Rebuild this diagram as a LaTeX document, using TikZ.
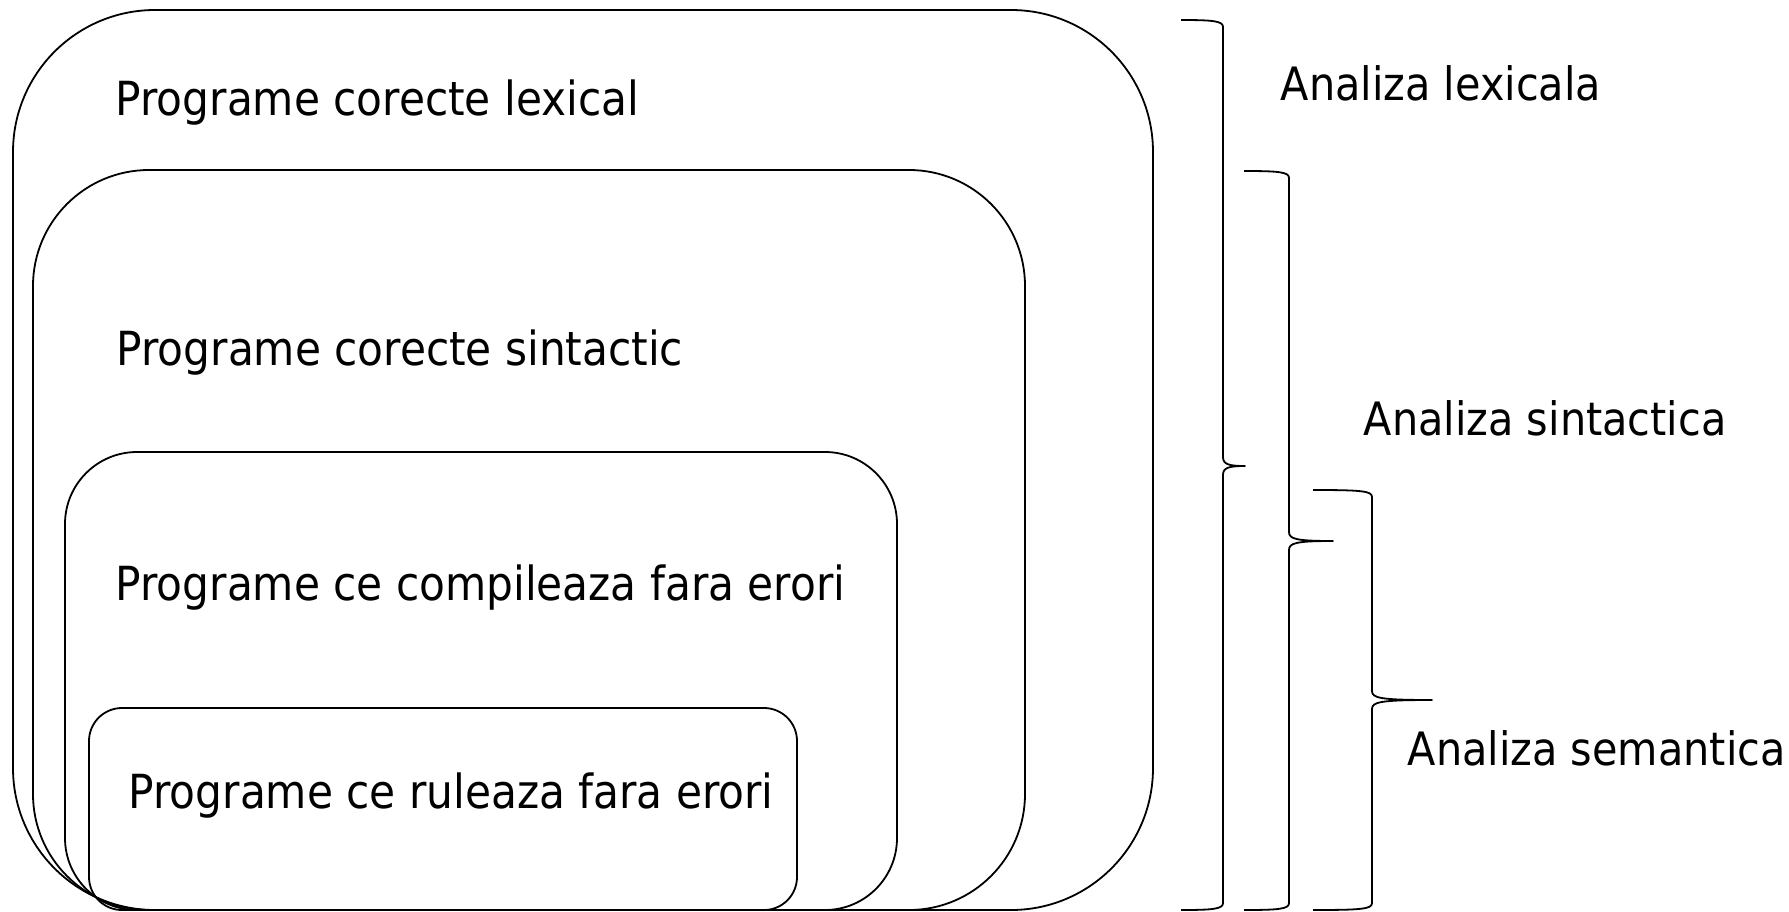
\documentclass[tikz,border=0pt]{standalone}
\usepackage{fontspec}
\setmainfont{DejaVu Sans Condensed}
\usetikzlibrary{positioning}

\begin{document}
\begin{tikzpicture}[x=1pt, y=-1pt, line width=1.8pt,
    boxtext/.style={anchor=base west, inner sep=0pt, font=\fontsize{47}{56}\selectfont},
    analiza/.style={anchor=base west, inner sep=0pt, font=\fontsize{46}{55}\selectfont},
    acolada/.style={line width=1.8pt, line join=round}]
    \useasboundingbox (0,0) rectangle (1789,911);

    % multimile de programe
    \draw[rounded corners=142pt] (13,10)  rectangle (1153,910);
    \draw[rounded corners=116pt] (33,170) rectangle (1025,910);
    \draw[rounded corners=72pt]  (65,452) rectangle (897,910);
    \draw[rounded corners=33pt]  (89,708) rectangle (797,910);

    \node[boxtext] at (115,115) (lexical)   {Programe corecte lexical};
    \node[boxtext] at (116,365) (sintactic) {Programe corecte sintactic};
    \node[boxtext] at (115,600) (compilare) {Programe ce compileaza fara erori};
    \node[boxtext] at (128,808) (rulare)    {Programe ce ruleaza fara erori};

    % acolade
    \draw[acolada] (1181,20) .. controls (1213,20) and (1223,21) .. (1223,27) -- (1223,457)
        .. controls (1223,464) and (1228,466) .. (1245,466)
        .. controls (1228,466) and (1223,468) .. (1223,475) -- (1223,903)
        .. controls (1223,909) and (1213,910) .. (1181,910);
    \draw[acolada] (1244,171) .. controls (1279,171) and (1289,172) .. (1289,178) -- (1289,532)
        .. controls (1289,539) and (1296,541) .. (1333,541)
        .. controls (1296,541) and (1289,543) .. (1289,550) -- (1289,903)
        .. controls (1289,909) and (1279,910) .. (1244,910);
    \draw[acolada] (1313,490) .. controls (1362,490) and (1372,491) .. (1372,497) -- (1372,691)
        .. controls (1372,698) and (1380,700) .. (1432,700)
        .. controls (1380,700) and (1372,702) .. (1372,709) -- (1372,903)
        .. controls (1372,909) and (1362,910) .. (1313,910);

    \node[analiza] at (1280,100) (alex) {Analiza lexicala};
    \node[analiza] at (1363,435) (asin) {Analiza sintactica};
    \node[analiza] at (1407,765) (asem) {Analiza semantica};
\end{tikzpicture}
\end{document}
